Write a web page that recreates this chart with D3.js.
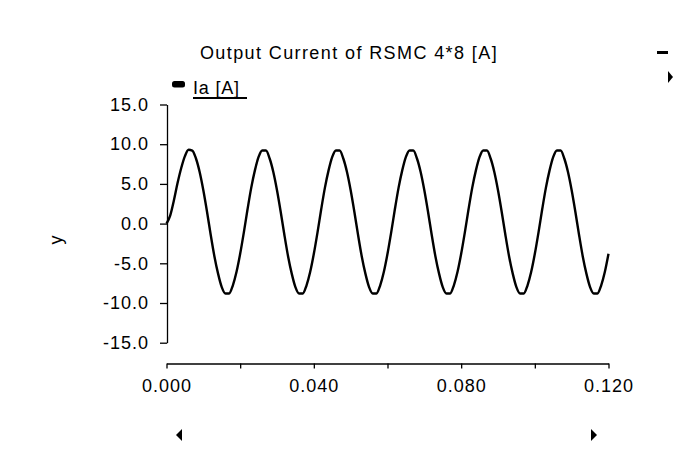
<!DOCTYPE html>
<html>
<head>
<meta charset="utf-8">
<script src="https://cdn.jsdelivr.net/npm/d3@7"></script>
<style>
  html, body { margin: 0; padding: 0; background: #fff; }
  svg { display: block; }
  text { font-family: "Liberation Sans", Arial, sans-serif; fill: #000; }
</style>
</head>
<body>
<svg id="chart" width="673" height="450"></svg>
<script>
// Phase current Ia [A], sampled every 1 ms from 0.000 s to 0.120 s
const sampleStep = 0.001;
const currentIa = [
   0.0,  1.0,  2.9,  5.1,  7.0,  8.5,  9.3,  9.2,  8.2,  6.5,
   4.2,  1.5, -1.4, -4.1, -6.3, -8.0, -8.8, -8.8, -7.8, -6.1,
  -3.8, -1.1,  1.8,  4.5,  6.7,  8.4,  9.2,  9.2,  8.2,  6.5,
   4.2,  1.5, -1.4, -4.1, -6.3, -8.0, -8.8, -8.8, -7.8, -6.1,
  -3.8, -1.1,  1.8,  4.5,  6.7,  8.4,  9.2,  9.2,  8.2,  6.5,
   4.2,  1.5, -1.4, -4.1, -6.3, -8.0, -8.8, -8.8, -7.8, -6.1,
  -3.8, -1.1,  1.8,  4.5,  6.7,  8.4,  9.2,  9.2,  8.2,  6.5,
   4.2,  1.5, -1.4, -4.1, -6.3, -8.0, -8.8, -8.8, -7.8, -6.1,
  -3.8, -1.1,  1.8,  4.5,  6.7,  8.4,  9.2,  9.2,  8.2,  6.5,
   4.2,  1.5, -1.4, -4.1, -6.3, -8.0, -8.8, -8.8, -7.8, -6.1,
  -3.8, -1.1,  1.8,  4.5,  6.7,  8.4,  9.2,  9.2,  8.2,  6.5,
   4.2,  1.5, -1.4, -4.1, -6.3, -8.0, -8.8, -8.8, -7.8, -6.1,
  -3.8
];
const yTicks = [-15, -10, -5, 0, 5, 10, 15];
const xTicks = [0, 0.02, 0.04, 0.06, 0.08, 0.10, 0.12];
const xLabelTicks = [0, 0.04, 0.08, 0.12];
const chartTitle = "Output Current of RSMC 4*8 [A]";
const seriesName = "Ia [A]";
const yAxisTitle = "y";

const svg = d3.select("#chart");
const FONT = 18;

const x = d3.scaleLinear().domain([0, 0.12]).range([166.5, 608.5]);
const y = d3.scaleLinear().domain([-15, 15]).range([342.7, 104.5]);

const points = currentIa.map((v, i) => ({ t: i * sampleStep, v }));

// plain hyphen for negatives
const fmtY = d => d3.format(".1f")(d).replace("\u2212", "-");

// Title
svg.append("text")
  .attr("x", 349).attr("y", 59)
  .attr("text-anchor", "middle")
  .style("font-size", FONT + "px")
  .style("letter-spacing", "1.4px")
  .text(chartTitle);

// Legend
const legend = svg.append("g");
legend.append("rect")
  .attr("x", 172).attr("y", 81).attr("width", 13).attr("height", 6.5)
  .attr("rx", 2.5).attr("fill", "#000");
legend.append("text")
  .attr("x", 193).attr("y", 94)
  .style("font-size", FONT + "px")
  .style("letter-spacing", "0.8px")
  .text(seriesName);
legend.append("line")
  .attr("x1", 193).attr("x2", 247).attr("y1", 98).attr("y2", 98)
  .attr("stroke", "#000").attr("stroke-width", 2);

// Y axis
const yAxis = svg.append("g")
  .attr("transform", "translate(167,0)")
  .call(d3.axisLeft(y).tickValues(yTicks).tickFormat(fmtY)
    .tickSize(7).tickSizeOuter(0).tickPadding(11));
yAxis.selectAll("text")
  .style("font-size", FONT + "px")
  .style("letter-spacing", "1px");

// X axis, offset below the plot
const xAxis = svg.append("g")
  .attr("transform", "translate(0,363.5)")
  .call(d3.axisBottom(x).tickValues(xTicks)
    .tickFormat(d => xLabelTicks.some(v => Math.abs(v - d) < 1e-9) ? d3.format(".3f")(d) : "")
    .tickSize(5).tickSizeOuter(0).tickPadding(10.5));
xAxis.selectAll("text")
  .style("font-size", FONT + "px")
  .style("letter-spacing", "1px");

svg.selectAll(".domain, .tick line")
  .attr("stroke", "#000").attr("stroke-width", 1.3);

// Y axis title
svg.append("text")
  .attr("transform", "translate(62,240) rotate(-90)")
  .attr("text-anchor", "middle")
  .style("font-size", FONT + "px")
  .text(yAxisTitle);

// Current trace
const line = d3.line()
  .x(d => x(d.t))
  .y(d => y(d.v))
  .curve(d3.curveMonotoneX);
svg.append("path")
  .datum(points)
  .attr("d", line)
  .attr("fill", "none")
  .attr("stroke", "#000")
  .attr("stroke-width", 2.4)
  .attr("stroke-linejoin", "round");

// Scroll markers around the plot area
const markers = svg.append("g").attr("fill", "#000");
markers.append("rect").attr("x", 657).attr("y", 51).attr("width", 11).attr("height", 3);
markers.append("path").attr("d", "M668,71 L673,77 L668,83 Z");
markers.append("path").attr("d", "M182,429 L176,435 L182,441 Z");
markers.append("path").attr("d", "M591,429 L597,435 L591,441 Z");
</script>
</body>
</html>
